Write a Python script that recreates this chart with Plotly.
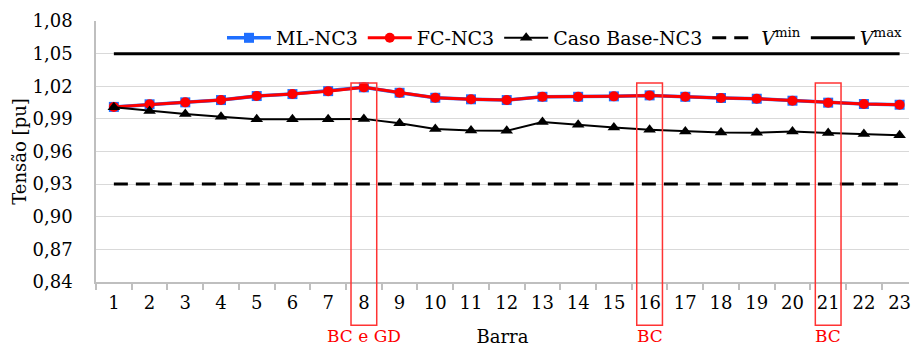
import plotly.graph_objects as go

barras = list(range(1, 24))
ml_nc3 = [1.001, 1.0034, 1.0052, 1.0073, 1.011, 1.0128, 1.0155, 1.019,
          1.014, 1.0094, 1.008, 1.0073, 1.0103, 1.0103, 1.0107, 1.0116,
          1.0103, 1.0092, 1.0085, 1.0067, 1.0049, 1.0037, 1.003]
fc_nc3 = [1.001, 1.0034, 1.0052, 1.0073, 1.011, 1.0128, 1.0155, 1.019,
          1.014, 1.0094, 1.008, 1.0073, 1.0103, 1.0103, 1.0107, 1.0116,
          1.0103, 1.0092, 1.0085, 1.0067, 1.0049, 1.0037, 1.003]
caso_base = [1.0007, 0.9973, 0.9945, 0.992, 0.9897, 0.9897, 0.9897, 0.990,
             0.986, 0.9806, 0.9793, 0.979, 0.9872, 0.9845, 0.982, 0.980,
             0.9784, 0.9774, 0.9772, 0.9784, 0.9769, 0.976, 0.975]
v_min = [0.93] * len(barras)
v_max = [1.05] * len(barras)
y_ticks = [0.84, 0.87, 0.90, 0.93, 0.96, 0.99, 1.02, 1.05, 1.08]
destaques = [8, 16, 21]
destaque_rotulos = ["BC e GD", "BC", "BC"]

FONT = "DejaVu Serif"

fig = go.Figure()
fig.add_trace(go.Scatter(x=barras, y=ml_nc3, name="ML-NC3", mode="lines+markers",
                         line=dict(color="#1F6FFF", width=3.5),
                         marker=dict(symbol="square", size=10, color="#1F6FFF")))
fig.add_trace(go.Scatter(x=barras, y=fc_nc3, name="FC-NC3", mode="lines+markers",
                         line=dict(color="#FF0000", width=3),
                         marker=dict(symbol="circle", size=10, color="#FF0000")))
fig.add_trace(go.Scatter(x=barras, y=caso_base, name="Caso Base-NC3", mode="lines+markers",
                         line=dict(color="#000000", width=2),
                         marker=dict(symbol="triangle-up", size=11, color="#000000")))
fig.add_trace(go.Scatter(x=barras, y=v_min, name="<i>V</i><sup>min</sup>", mode="lines",
                         line=dict(color="#000000", width=3, dash="14px,8px")))
fig.add_trace(go.Scatter(x=barras, y=v_max, name="<i>V</i><sup>max</sup>", mode="lines",
                         line=dict(color="#000000", width=3)))

for b, txt in zip(destaques, destaque_rotulos):
    fig.add_shape(type="rect", xref="x", yref="paper", x0=b - 0.36, x1=b + 0.36,
                  y0=-0.166, y1=0.762, line=dict(color="#FF3333", width=1.5),
                  fillcolor="rgba(0,0,0,0)", layer="above")
    fig.add_annotation(x=b, y=-0.208, xref="x", yref="paper", text=txt, showarrow=False,
                       yanchor="middle", font=dict(family=FONT, size=17, color="#FF0000"))

fig.update_layout(
    width=911, height=347,
    margin=dict(l=96, r=0, t=21, b=65),
    paper_bgcolor="white", plot_bgcolor="white",
    separators=",.",
    font=dict(family=FONT, size=18, color="#000000"),
    showlegend=True,
    legend=dict(orientation="h", x=0.155, xanchor="left", y=0.935, yanchor="middle",
                bgcolor="rgba(0,0,0,0)", font=dict(family=FONT, size=19),
                itemwidth=44, tracegroupgap=0),
)
fig.update_xaxes(
    range=[0.5, 23.263], tickmode="array", tickvals=barras,
    ticktext=[str(b) for b in barras], ticks="", showgrid=False, zeroline=False,
    showline=True, linecolor="#BFBFBF", linewidth=1.5, ticklabelstandoff=4,
    ticklabeloverflow="allow",
    tickfont=dict(family=FONT, size=18),
    minor=dict(tickmode="linear", tick0=0.5, dtick=1, ticks="outside", ticklen=6,
               tickcolor="#BFBFBF", tickwidth=1.5, showgrid=False),
    title=dict(text="Barra", standoff=20, font=dict(family=FONT, size=18)),
)
fig.update_yaxes(
    range=[0.84, 1.08], tickmode="array", tickvals=y_ticks, tickformat=".2f",
    ticks="", showgrid=True, gridcolor="#D9D9D9", gridwidth=1, zeroline=False,
    showline=True, linecolor="#BFBFBF", linewidth=1.5, ticklabelstandoff=18,
    tickfont=dict(family=FONT, size=18),
    title=dict(text="Tensão [pu]", standoff=1, font=dict(family=FONT, size=18)),
)

fig.write_html("out.html", config={"displayModeBar": False},
               post_script="document.body.style.margin='0px';document.body.style.overflow='hidden';")
